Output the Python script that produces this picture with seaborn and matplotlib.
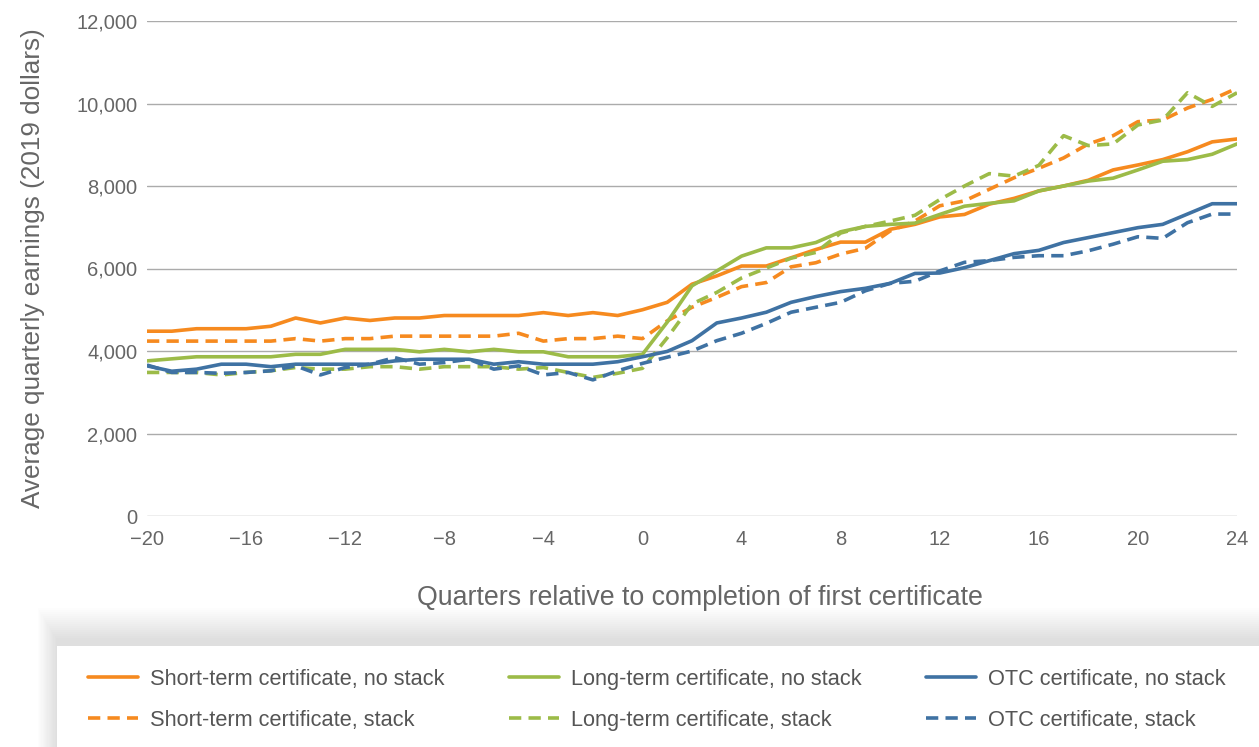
import numpy as np
import pandas as pd
import seaborn as sns
import matplotlib.pyplot as plt
from matplotlib.patches import Rectangle
from matplotlib.ticker import FuncFormatter, MultipleLocator

# --- data ---
quarters = list(range(-20, 25))

short_nostack = [4480, 4480, 4540, 4540, 4540, 4600, 4800, 4680, 4800, 4740,
                 4800, 4800, 4860, 4860, 4860, 4860, 4930, 4860, 4930, 4860,
                 5000, 5180, 5620, 5820, 6060, 6060, 6260, 6460, 6640, 6640,
                 6950, 7070, 7250, 7310, 7560, 7700, 7880, 8000, 8140, 8390,
                 8510, 8640, 8830, 9070, 9140]
short_stack = [4240, 4240, 4240, 4240, 4240, 4240, 4300, 4240, 4300, 4300,
               4360, 4360, 4360, 4360, 4360, 4430, 4240, 4300, 4300, 4360,
               4300, 4730, 5060, 5300, 5560, 5660, 6040, 6140, 6350, 6490,
               6910, 7150, 7520, 7640, 7920, 8200, 8430, 8680, 9020, 9220,
               9560, 9600, 9890, 10100, 10370]
long_nostack = [3760, 3810, 3860, 3860, 3860, 3860, 3920, 3920, 4040, 4040,
                4040, 3980, 4040, 3980, 4040, 3980, 3980, 3860, 3860, 3860,
                3920, 4700, 5580, 5940, 6300, 6500, 6500, 6630, 6890, 7020,
                7070, 7100, 7310, 7510, 7580, 7640, 7880, 8000, 8120, 8190,
                8390, 8600, 8640, 8770, 9020]
long_stack = [3480, 3480, 3480, 3420, 3480, 3520, 3600, 3560, 3560, 3620,
              3620, 3560, 3620, 3620, 3620, 3560, 3600, 3480, 3360, 3460,
              3580, 4320, 5140, 5420, 5770, 6010, 6250, 6390, 6860, 7020,
              7150, 7290, 7670, 8000, 8300, 8240, 8500, 9220, 8980, 9020,
              9480, 9600, 10260, 9930, 10260]
otc_nostack = [3640, 3510, 3560, 3680, 3680, 3620, 3680, 3680, 3680, 3680,
               3760, 3800, 3800, 3800, 3680, 3740, 3680, 3680, 3680, 3740,
               3860, 3990, 4250, 4680, 4800, 4940, 5180, 5320, 5440, 5520,
               5640, 5880, 5890, 6020, 6190, 6360, 6440, 6630, 6750, 6870,
               6990, 7070, 7320, 7570, 7570]
otc_stack = [3660, 3480, 3480, 3460, 3480, 3520, 3640, 3420, 3600, 3680,
             3840, 3680, 3720, 3800, 3560, 3640, 3420, 3480, 3300, 3520,
             3700, 3850, 4000, 4250, 4430, 4670, 4940, 5060, 5180, 5460,
             5640, 5690, 5940, 6150, 6190, 6270, 6310, 6310, 6430, 6590,
             6770, 6730, 7110, 7320, 7320]

series_names = ["Short-term certificate, no stack", "Short-term certificate, stack",
                "Long-term certificate, no stack", "Long-term certificate, stack",
                "OTC certificate, no stack", "OTC certificate, stack"]
series_values = [short_nostack, short_stack, long_nostack, long_stack, otc_nostack, otc_stack]

ORANGE, GREEN, BLUE = "#F68A1F", "#9CBB48", "#3F72A3"
colors = [ORANGE, ORANGE, GREEN, GREEN, BLUE, BLUE]
TXT = "#666666"

sns.set_style("white")
plt.rcParams['font.family'] = ['Liberation Sans', 'DejaVu Sans']

W, H = 1259, 747
fig = plt.figure(figsize=(W / 100, H / 100), dpi=100)
ax = fig.add_axes([147 / W, 1 - 516 / H, 1090 / W, 495 / H])

for name, vals, c in zip(series_names, series_values, colors):
    ls = "-" if "no stack" in name else (0, (3.4, 2.0))
    sns.lineplot(x=quarters, y=vals, ax=ax, color=c, lw=2.6, linestyle=ls, label=name)

ax.set_xlim(-20, 24)
ax.set_ylim(0, 12000)
ax.xaxis.set_major_locator(MultipleLocator(4))
ax.yaxis.set_major_locator(MultipleLocator(2000))
ax.yaxis.set_major_formatter(FuncFormatter(lambda v, p: f"{int(v):,}"))
ax.grid(axis="y", color="#ABABAB", lw=1.0)
ax.set_axisbelow(True)
for s in ax.spines.values():
    s.set_visible(False)
ax.tick_params(axis="both", length=0, labelsize=14.5, colors=TXT)
ax.tick_params(axis="y", pad=7)
ax.tick_params(axis="x", pad=10)

ax.set_xlabel("Quarters relative to completion of first certificate", fontsize=19.3, color=TXT)
ax.xaxis.set_label_coords(0.507, -0.14)
ax.set_ylabel("Average quarterly earnings (2019 dollars)", fontsize=18.8, color=TXT)
ax.yaxis.set_label_coords(-0.094, 0.5)

handles, labels = ax.get_legend_handles_labels()
ax.get_legend().remove()

# legend box with soft shadow
bx0, btop = 57, 646
for i in range(16):
    d = 2 + i * 2
    fig.patches.append(Rectangle(((bx0 - d * 0.6) / W, -0.1), 2, 1 - (btop - 6 - d) / H + 0.1,
                                 transform=fig.transFigure, color="black", alpha=0.009,
                                 lw=0, zorder=0))
fig.patches.append(Rectangle((bx0 / W, -0.1), 2, 1 - btop / H + 0.1,
                             transform=fig.transFigure, color="white", lw=0, zorder=1))

leg = fig.legend(handles, labels, loc="upper left", bbox_to_anchor=(88 / W, 1 - 669 / H),
                 ncol=3, frameon=False, fontsize=15.7, handlelength=2.3, handletextpad=0.55,
                 columnspacing=2.95, labelspacing=0.9, borderpad=0, borderaxespad=0)
leg.set_zorder(5)
for t in leg.get_texts():
    t.set_color("#555555")

fig.savefig("out.png", dpi=100)
